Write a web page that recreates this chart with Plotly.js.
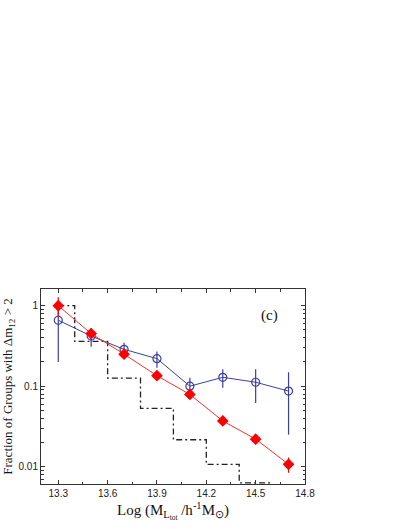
<!DOCTYPE html>
<html>
<head>
<meta charset="utf-8">
<script src="https://cdn.plot.ly/plotly-3.0.1.min.js"></script>
<style>html,body{margin:0;padding:0;background:#fff;}#chart{width:409px;height:529px;}</style>
</head>
<body>
<div id="chart"></div>
<script>
// Data
const massBins = [13.3, 13.5, 13.7, 13.9, 14.1, 14.3, 14.5, 14.7];
const redFraction = [1.0, 0.45, 0.25, 0.135, 0.079, 0.037, 0.022, 0.0107];
const redError = [0.27, 0.05, 0.02, 0.012, 0.009, 0.003, 0.003, 0.0023];
const blueFraction = [0.66, 0.42, 0.287, 0.22, 0.10, 0.129, 0.112, 0.087];
const blueError = [0.46, 0.11, 0.06, 0.05, 0.027, 0.033, 0.05, 0.062];
const stepEdges = [13.3, 13.4, 13.6, 13.8, 14.0, 14.2, 14.4, 14.6];
const stepFraction = [1.0, 0.36, 0.126, 0.053, 0.0216, 0.0107, 0.0063, 0.0063];
const xTickVals = [13.3, 13.6, 13.9, 14.2, 14.5, 14.8];
const yTickVals = [0.01, 0.1, 1];
const yTickText = ['0.01', '0.1', '1'];

const blue = '#3b3f9e';
const serif = '"Liberation Serif", "Times New Roman", serif';
const sans = '"Liberation Sans", Arial, sans-serif';
const traces = [
  {
    x: stepEdges, y: stepFraction, type: 'scatter', mode: 'lines',
    line: {shape: 'hv', color: '#222', width: 1.3, dash: '6px,3px,2px,3px'},
    hoverinfo: 'skip'
  },
  {
    x: massBins, y: blueFraction, type: 'scatter', mode: 'lines+markers',
    line: {color: blue, width: 1},
    marker: {symbol: 'circle-open', size: 8, color: blue, line: {width: 1.2, color: blue}},
    error_y: {type: 'data', array: blueError, visible: true, color: blue, thickness: 1.2, width: 0}
  },
  {
    x: massBins, y: redFraction, type: 'scatter', mode: 'lines+markers',
    line: {color: '#ff3030', width: 1},
    marker: {symbol: 'diamond', size: 9, color: '#ff0000'},
    error_y: {type: 'data', array: redError, visible: true, color: '#ff0000', thickness: 1.2, width: 0}
  }
];

const layout = {
  width: 409, height: 529,
  margin: {l: 41, r: 104, t: 289, b: 45},
  paper_bgcolor: '#fff', plot_bgcolor: '#fff',
  showlegend: false,
  xaxis: {
    range: [13.195, 14.8],
    tickvals: xTickVals, ticktext: xTickVals.map(v => v.toFixed(1)),
    ticks: 'inside', ticklen: 4, tickcolor: '#333', tickwidth: 1,
    minor: {ticks: 'inside', ticklen: 2.5, dtick: 0.15, tick0: 13.15, tickcolor: '#333'},
    showline: true, linecolor: '#333', linewidth: 1, mirror: 'allticks',
    showgrid: false, zeroline: false,
    tickfont: {family: sans, size: 10, color: '#222'},
    title: {text: 'Log (M<sub>L<sub>tot</sub></sub> /h<sup>-1</sup>M<sub>⊙</sub>)', font: {family: serif, size: 15, color: '#111'}, standoff: 6}
  },
  yaxis: {
    type: 'log',
    range: [-2.215, 0.2075],
    tickvals: yTickVals, ticktext: yTickText,
    ticks: 'inside', ticklen: 4, tickcolor: '#333', tickwidth: 1,
    minor: {ticks: 'inside', ticklen: 2.5, tickcolor: '#333', dtick: 'D1'},
    showline: true, linecolor: '#333', linewidth: 1, mirror: 'allticks',
    showgrid: false, zeroline: false,
    tickfont: {family: sans, size: 10, color: '#222'},
    title: {text: 'Fraction of Groups with Δm<sub>12</sub> > 2', font: {family: serif, size: 13, color: '#111'}, standoff: 4}
  },
  annotations: [{
    xref: 'paper', yref: 'paper', x: 0.905, y: 0.918, text: '(c)', showarrow: false,
    font: {family: serif, size: 15, color: '#111'}
  }]
};

Plotly.newPlot('chart', traces, layout, {displayModeBar: false, staticPlot: true});
</script>
</body>
</html>
